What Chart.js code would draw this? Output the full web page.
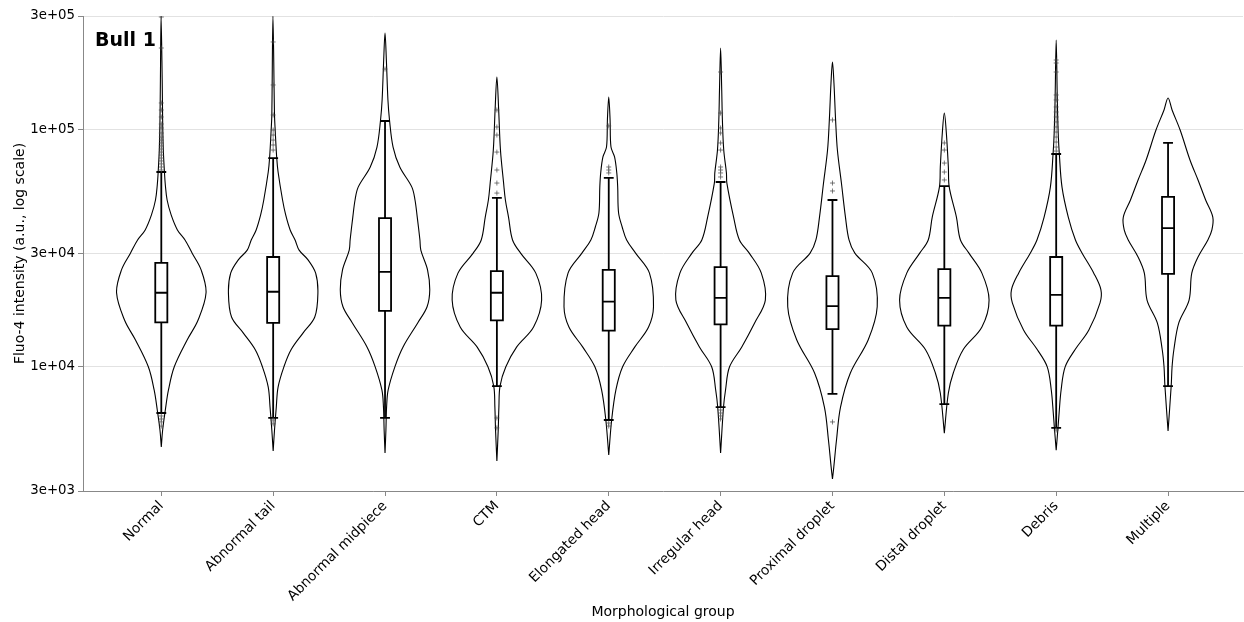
<!DOCTYPE html>
<html>
<head>
<meta charset="utf-8">
<script src="https://cdn.jsdelivr.net/npm/chart.js@4.4.1/dist/chart.umd.min.js"></script>
<style>
  html, body { margin: 0; padding: 0; background: #fff; overflow: hidden; }
  canvas { display: block; }
</style>
</head>
<body>
<canvas id="chart" width="1244" height="622"></canvas>
<script>
// groups on the x axis
const groups = ['Normal', 'Abnormal tail', 'Abnormal midpiece', 'CTM', 'Elongated head',
  'Irregular head', 'Proximal droplet', 'Distal droplet', 'Debris', 'Multiple'];
const yTicks = [3e3, 1e4, 3e4, 1e5, 3e5];

// box plot stats (a.u.)
const lowerWhisker = [6390, 6090, 6090, 8300, 5970, 6770, 7690, 6970, 5530, 8300];
const q1 = [15400, 15300, 17200, 15700, 14200, 15100, 14400, 14900, 14900, 24600];
const medians = [20500, 20700, 25100, 20500, 18800, 19500, 18000, 19500, 20100, 38400];
const q3 = [27400, 29000, 42300, 25300, 25600, 26300, 24100, 25800, 29000, 51900];
const upperWhisker = [66100, 75700, 108400, 51400, 62400, 60000, 50400, 57700, 78700, 87600];

// violin outlines: intensity values (bottom to top) and relative density
const violinValues = [
  [4600, 5420, 6580, 7990, 10000, 13000, 15700, 20500, 25600, 30100, 34200, 37700, 43600, 50400, 58300, 66100, 81800, 109500, 161300, 300000],
  [4420, 5420, 6770, 8220, 10000, 11800, 13900, 16200, 20500, 24800, 28200, 31000, 34200, 37700, 43600, 50400, 66100, 75700, 99300, 114900, 300000],
  [4340, 5420, 6770, 7990, 10000, 12100, 15300, 17900, 21100, 25600, 31000, 34200, 42700, 50400, 57100, 69400, 84200, 109500, 132900, 195800, 254400],
  [4010, 5420, 6770, 8300, 10000, 12100, 14700, 19100, 24800, 30100, 34200, 42700, 50400, 59400, 81800, 120600, 166100],
  [4250, 5970, 7990, 10000, 12100, 14700, 17900, 24800, 30100, 34200, 38800, 44400, 57100, 65500, 76500, 84200, 109500, 136800],
  [4340, 6770, 7990, 10000, 12100, 15300, 19100, 24800, 30100, 34200, 42700, 59400, 65500, 81800, 109500, 146400, 220000],
  [3370, 3790, 4920, 6770, 9420, 13000, 17900, 24800, 30100, 34200, 42700, 59400, 81800, 109500, 156700, 192100],
  [5260, 7760, 9420, 11800, 14700, 19100, 24800, 30100, 34200, 42700, 57100, 69400, 96500, 117100],
  [4460, 5530, 6390, 7990, 10000, 11800, 14300, 18600, 21100, 24800, 30100, 34200, 42700, 57100, 78700, 96500, 132900, 237700],
  [5370, 8300, 10000, 11800, 15300, 19100, 24800, 29000, 34200, 37700, 42700, 50400, 61200, 74300, 99300, 120600, 135500]
];
const violinWidths = [
  [0, 0.03, 0.09, 0.16, 0.29, 0.58, 0.82, 1.0, 0.89, 0.69, 0.53, 0.36, 0.22, 0.13, 0.09, 0.07, 0.045, 0.03, 0.02, 0.005],
  [0, 0.03, 0.07, 0.11, 0.24, 0.4, 0.67, 0.93, 1.0, 0.95, 0.78, 0.58, 0.49, 0.38, 0.28, 0.21, 0.11, 0.08, 0.045, 0.03, 0.005],
  [0, 0.02, 0.035, 0.07, 0.22, 0.4, 0.73, 0.94, 1.0, 0.95, 0.8, 0.78, 0.72, 0.67, 0.6, 0.33, 0.18, 0.1, 0.065, 0.03, 0],
  [0, 0.03, 0.045, 0.07, 0.2, 0.44, 0.82, 1.0, 0.87, 0.53, 0.35, 0.26, 0.19, 0.15, 0.08, 0.04, 0],
  [0, 0.065, 0.16, 0.31, 0.58, 0.89, 1.0, 0.91, 0.6, 0.4, 0.3, 0.22, 0.2, 0.18, 0.13, 0.05, 0.03, 0],
  [0, 0.065, 0.11, 0.2, 0.47, 0.76, 1.0, 0.91, 0.64, 0.42, 0.29, 0.14, 0.13, 0.07, 0.04, 0.025, 0],
  [0, 0.03, 0.09, 0.18, 0.4, 0.8, 1.0, 0.89, 0.5, 0.37, 0.29, 0.2, 0.11, 0.07, 0.033, 0],
  [0, 0.09, 0.2, 0.42, 0.84, 1.0, 0.84, 0.55, 0.36, 0.27, 0.11, 0.09, 0.045, 0],
  [0, 0.04, 0.065, 0.11, 0.2, 0.42, 0.73, 0.98, 1.0, 0.84, 0.58, 0.43, 0.27, 0.13, 0.07, 0.045, 0.025, 0],
  [0, 0.07, 0.09, 0.13, 0.24, 0.47, 0.53, 0.67, 0.89, 0.98, 1.0, 0.84, 0.67, 0.49, 0.27, 0.09, 0]
];

// outlier points
const outliers = [
  [297100, 220000, 129100, 120600, 112700, 105300, 101300, 96500, 92800, 90100, 87600, 85100, 82600, 80200, 77900, 75700, 73600, 71500, 69400, 67400, 6210, 6030, 5860, 5630],
  [233200, 153700, 114900, 99300, 94600, 90100, 85900, 81800, 5970, 5750],
  [179400],
  [120600, 102300, 94600, 80200, 67400, 59400, 53900, 6090, 5530],
  [103300, 69400, 67400, 65500, 5800, 5630],
  [174300, 117100, 101300, 96500, 87600, 81800, 69400, 67400, 65500, 63000, 6580, 6390, 6210, 6030],
  [109500, 59400, 55000, 5860],
  [87600, 81800, 72100, 66100, 61200],
  [195800, 190200, 174300, 139500, 132900, 124200, 118300, 112700, 107400, 102300, 97400, 92800, 88400, 84200, 81000, 5420],
  []
];

const HALF = 0.4;   // widest violin, in category units
const BOX = 0.054;
const CAP = 0.036;
const FONT = 'DejaVu Sans';

function sci(v) {
  const e = Math.floor(Math.log10(v) + 1e-9);
  const m = Math.round(v / Math.pow(10, e));
  return m + 'e+' + String(e).padStart(2, '0');
}

const datasets = [];
groups.forEach((g, i) => {
  const vals = violinValues[i], dens = violinWidths[i];
  const left = vals.map((v, k) => ({ x: i - dens[k] * HALF, y: v }));
  const right = vals.map((v, k) => ({ x: i + dens[k] * HALF, y: v })).reverse();
  datasets.push({
    type: 'line', data: left.concat(right.slice(1)),
    borderColor: '#000', borderWidth: 1.1, pointRadius: 0, tension: 0.35, fill: false, order: 3
  });

  const gap = { x: i, y: null };
  datasets.push({
    type: 'line',
    data: [
      { x: i - BOX, y: q1[i] }, { x: i + BOX, y: q1[i] }, { x: i + BOX, y: q3[i] }, { x: i - BOX, y: q3[i] }, { x: i - BOX, y: q1[i] }, gap,
      { x: i - BOX, y: medians[i] }, { x: i + BOX, y: medians[i] }, gap,
      { x: i, y: q3[i] }, { x: i, y: upperWhisker[i] }, gap,
      { x: i - CAP, y: upperWhisker[i] }, { x: i + CAP, y: upperWhisker[i] }, gap,
      { x: i, y: q1[i] }, { x: i, y: lowerWhisker[i] }, gap,
      { x: i - CAP, y: lowerWhisker[i] }, { x: i + CAP, y: lowerWhisker[i] }
    ],
    borderColor: '#000', borderWidth: 1.8, pointRadius: 0, tension: 0, fill: false,
    spanGaps: false, borderJoinStyle: 'miter', borderCapStyle: 'square', order: 2
  });

  if (outliers[i].length) {
    datasets.push({
      type: 'scatter',
      data: outliers[i].map(v => ({ x: i, y: v })),
      pointStyle: 'cross', pointRadius: 2.5, borderWidth: 1,
      borderColor: 'rgba(70,70,70,0.7)', backgroundColor: 'rgba(70,70,70,0.7)', order: 1
    });
  }
});

const panelLabel = {
  id: 'panelLabel',
  afterDraw(chart) {
    const { ctx, chartArea } = chart;
    ctx.save();
    ctx.font = 'bold 19px "' + FONT + '"';
    ctx.fillStyle = '#000';
    ctx.textBaseline = 'alphabetic';
    ctx.fillText('Bull 1', chartArea.left + 12, chartArea.top + 30);
    ctx.restore();
  }
};

new Chart(document.getElementById('chart'), {
  type: 'line',
  data: { datasets: datasets },
  options: {
    responsive: false,
    animation: false,
    layout: { autoPadding: false, padding: { top: 16, right: 1, left: 0, bottom: 0 } },
    plugins: { legend: { display: false }, tooltip: { enabled: false } },
    scales: {
      x: {
        type: 'linear', min: -0.7, max: 9.67,
        afterBuildTicks: s => { s.ticks = groups.map((g, i) => ({ value: i })); },
        afterFit: s => { s.height = 131; s.paddingLeft = 0; s.paddingRight = 0; },
        ticks: {
          autoSkip: false, minRotation: 45, maxRotation: 45, padding: 2,
          callback: v => groups[v], color: '#000', font: { family: FONT, size: 13.8 }
        },
        grid: { drawOnChartArea: false, drawTicks: true, tickLength: 5, tickColor: '#888', tickWidth: 1 },
        border: { color: '#888', width: 1 },
        title: {
          display: true, text: 'Morphological group', color: '#000',
          font: { family: FONT, size: 14 }, padding: { top: 0, bottom: 1 }
        }
      },
      y: {
        type: 'logarithmic', min: 3000, max: 300000,
        afterBuildTicks: s => { s.ticks = yTicks.map(v => ({ value: v })); },
        afterFit: s => { s.width = 83; s.paddingTop = 0; s.paddingBottom = 0; },
        ticks: { padding: 3, color: '#000', font: { family: FONT, size: 13.3 }, callback: v => sci(v) },
        grid: { color: '#e2e2e2', lineWidth: 1, tickColor: '#888', tickLength: 5 },
        border: { color: '#888', width: 1 },
        title: {
          display: true, text: 'Fluo-4 intensity (a.u., log scale)', color: '#000',
          font: { family: FONT, size: 14 }, padding: { top: 12, bottom: 0 }
        }
      }
    }
  },
  plugins: [panelLabel]
});
</script>
</body>
</html>
